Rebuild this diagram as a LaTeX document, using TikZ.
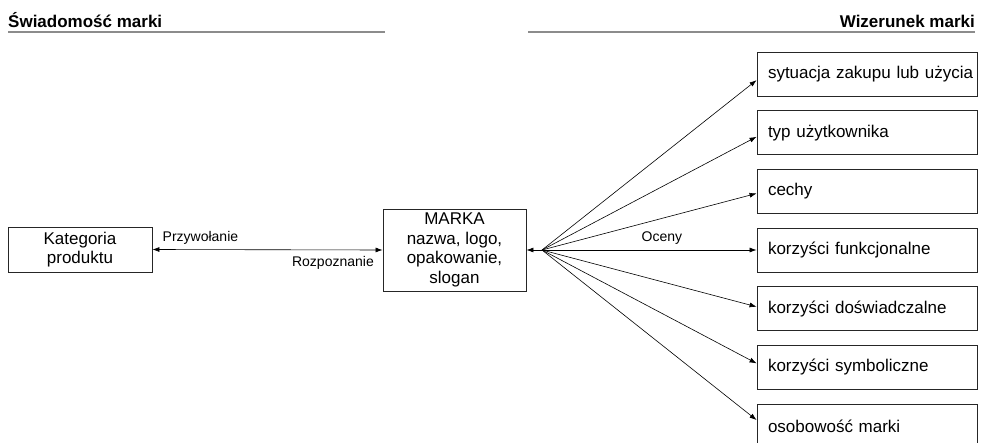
\documentclass[tikz,border=0pt]{standalone}
\usepackage{fontspec}
\setmainfont{Liberation Sans}
\usetikzlibrary{arrows.meta,calc}
\begin{document}
\begin{tikzpicture}[x=1pt,y=-1pt,
  box/.style={draw=black!85,line width=0.9pt,inner sep=0pt,font=\fontsize{17}{19.5}\selectfont},
  rbox/.style={box,minimum width=220pt,minimum height=44pt,text width=220pt,align=left,
    execute at begin node={\hyphenpenalty=10000\hspace*{11pt}}},
  conn/.style={line width=0.6pt,-{Latex[length=7pt,width=5pt]}},
  lbl/.style={font=\fontsize{14}{16}\selectfont,inner sep=0pt},
  hdr/.style={font=\bfseries\fontsize{17}{19}\selectfont,inner sep=0pt},
  rule/.style={draw=black!45,line width=1.8pt}]
\useasboundingbox (0,0) rectangle (981,443);
\clip (0,0) rectangle (981,443);
% headers
\node[hdr,anchor=base west] (h1) at (8,28) {Świadomość marki};
\node[hdr,anchor=base east] (h2) at (975,28) {Wizerunek marki};
\coordinate (l1a) at (8,32); \coordinate (l1b) at (385,32);
\coordinate (l2a) at (528,32); \coordinate (l2b) at (975,32);
\draw[rule] (l1a) -- (l1b);
\draw[rule] (l2a) -- (l2b);
% main boxes
\node[box,minimum width=144pt,minimum height=45pt,align=center] (kat) at (80,249.5) {Kategoria\\produktu};
\node[box,minimum width=143pt,minimum height=82pt,align=center] (marka) at (454.5,250) {MARKA\\nazwa, logo,\\opakowanie,\\slogan};
\coordinate (hub) at (542,250);
% right boxes
\node[rbox] (b1) at (867,74) {sytuacja zakupu lub użycia};
\node[rbox] (b2) at (867,132.7) {typ użytkownika};
\node[rbox] (b3) at (867,191.4) {cechy};
\node[rbox] (b4) at (867,250) {korzyści funkcjonalne};
\node[rbox] (b5) at (867,308.8) {korzyści doświadczalne};
\node[rbox] (b6) at (867,367.5) {korzyści symboliczne};
\node[rbox] (b7) at (867,426.2) {osobowość marki};
% connectors
\draw[line width=0.6pt,{Latex[length=7pt,width=5pt]}-{Latex[length=7pt,width=5pt]}] (kat.east) -- (marka.west);
\draw[conn] (hub) -- (marka.east);
\foreach \b in {b1,b2,b3,b4,b5,b6,b7}{
  \draw[conn] (hub) -- ($(\b.west)!0.035!(\b.west |- hub)$);
}
% labels
\node[lbl,anchor=base west] (przy) at (162.5,241.7) {Przywołanie};
\node[lbl,anchor=base east] (rozp) at (374,266.7) {Rozpoznanie};
\node[lbl,anchor=base west] (oceny) at (641.5,242) {Oceny};
\end{tikzpicture}
\end{document}
